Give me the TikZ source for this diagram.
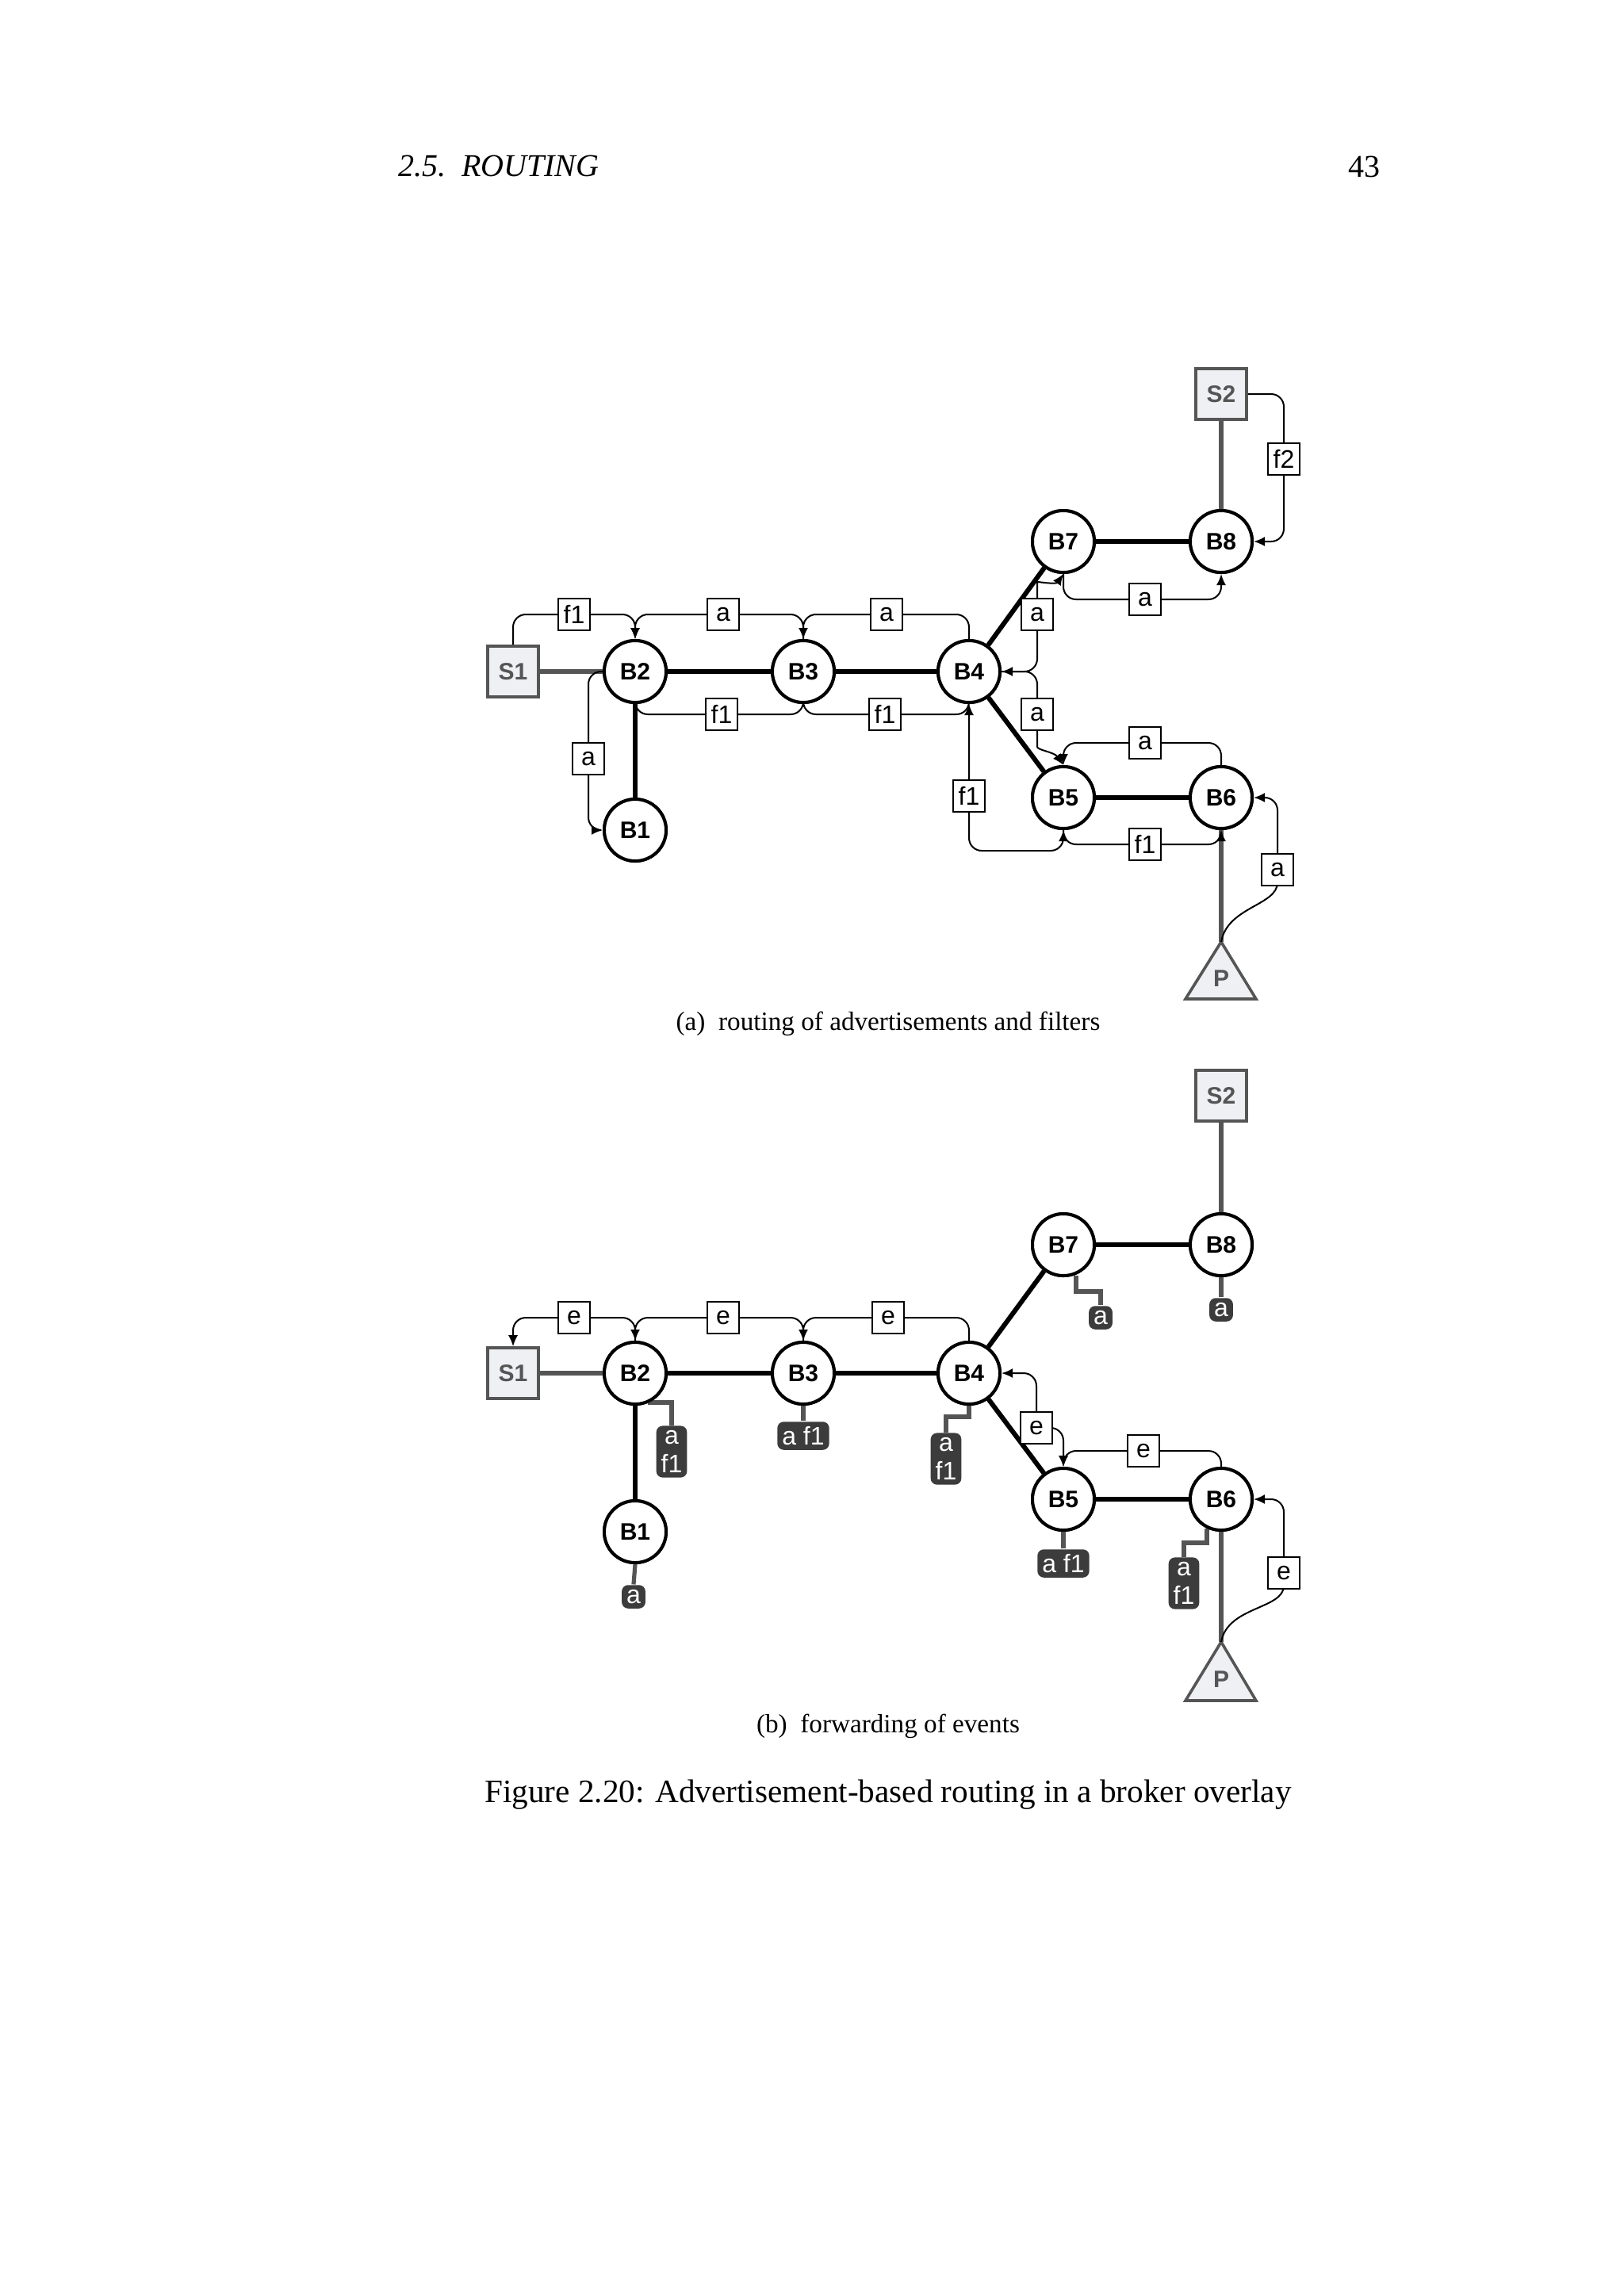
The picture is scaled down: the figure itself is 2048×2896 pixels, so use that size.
\documentclass[tikz,border=0pt]{standalone}
\usepackage{fontspec}
\setmainfont{Liberation Serif}
\setsansfont{Liberation Sans}
\usetikzlibrary{arrows.meta}
\definecolor{cgray}{HTML}{555555}
\definecolor{cfill}{HTML}{EEF0F3}
\definecolor{dbox}{HTML}{3C3C3C}
\begin{document}
\begin{tikzpicture}[x=0.25pt,y=-0.25pt,
  br/.style={circle,draw,line width=1pt,fill=white,minimum size=19.5pt,inner sep=0pt,font=\sffamily\bfseries\fontsize{7.5}{9}\selectfont},
  cl/.style={rectangle,draw=cgray,line width=0.9pt,fill=cfill,minimum size=16pt,inner sep=0pt,text=cgray,font=\sffamily\bfseries\fontsize{7.5}{9}\selectfont},
  lab/.style={rectangle,draw,line width=0.5pt,fill=white,minimum size=10pt,inner sep=0.5pt,font=\sffamily\fontsize{8}{9}\selectfont},
  tbl/.style={rectangle,fill=dbox,rounded corners=2pt,text=white,inner sep=1.5pt,align=center,font=\sffamily\fontsize{8}{9}\selectfont},
  link/.style={line width=1.5pt},
  clink/.style={line width=1.5pt,draw=cgray},
  tlink/.style={line width=1.3pt,draw=cgray},
  fl/.style={line width=0.5pt,rounded corners=4pt,-{Latex[length=3.5pt,width=3pt]}},
  flb/.style={line width=0.5pt,rounded corners=4pt,{Latex[length=3.5pt,width=3pt]}-{Latex[length=3.5pt,width=3pt]}}]
\useasboundingbox[fill=white] (0,0) rectangle (2048,2896);
\node[font=\itshape\fontsize{10}{12}\selectfont,anchor=west] (hd) at (488,210) {2.5.\ \ ROUTING};
\node[font=\fontsize{10}{12}\selectfont,anchor=east] (pg) at (1755,210) {43};

% ================= (a) =================
\node[cl] (S1) at (647,847) {S1};
\node[br] (B2) at (801,847) {B2};
\node[br] (B3) at (1013,847) {B3};
\node[br] (B4) at (1222,847) {B4};
\node[br] (B1) at (801,1047) {B1};
\node[br] (B7) at (1341,683) {B7};
\node[br] (B8) at (1540,683) {B8};
\node[cl] (S2) at (1540,497) {S2};
\node[br] (B5) at (1341,1006) {B5};
\node[br] (B6) at (1540,1006) {B6};
\coordinate (P) at (1540,1188);
\draw[cgray,line width=0.9pt,fill=cfill] (P) -- (1584,1260) -- (1495,1260) -- cycle;
\node[text=cgray,font=\sffamily\bfseries\fontsize{7.5}{9}\selectfont] (Pt) at (1540,1234) {P};

\draw[clink] (S1.east) -- (B2.west);
\draw[clink] (S2.south) -- (B8.north);
\draw[clink] (P) -- (B6.south);
\draw[link] (B2) -- (B3); \draw[link] (B3) -- (B4); \draw[link] (B2) -- (B1);
\draw[link] (B4) -- (B7); \draw[link] (B7) -- (B8);
\draw[link] (B4) -- (B5); \draw[link] (B5) -- (B6);

\node[lab] (f1a) at (724,775) {f1};
\node[lab] (a23) at (912,775) {a};
\node[lab] (a34) at (1118,775) {a};
\node[lab] (f23) at (910,901) {f1};
\node[lab] (f34) at (1116,901) {f1};
\node[lab] (aL) at (742,957) {a};
\node[lab] (a47) at (1308,775) {a};
\node[lab] (a78) at (1444,756) {a};
\node[lab] (a45) at (1308,901) {a};
\node[lab] (a56) at (1444,937) {a};
\node[lab] (f45) at (1222,1004) {f1};
\node[lab] (f56) at (1444,1065) {f1};
\node[lab] (aP) at (1611,1097) {a};
\node[lab] (f2) at (1619,579) {f2};
\coordinate (k1) at (1341,1073);

\begin{scope}[on background layer/.try]
\end{scope}
\draw[fl] (S1.north) |- (f1a.center) -| (B2.north);
\draw[fl] (B3.north) |- (a23.center) -| (B2.north);
\draw[fl] (B4.north) |- (a34.center) -| (B3.north);
\draw[fl] (B2.south) |- (f23.center) -| (B3.south);
\draw[fl] (B3.south) |- (f34.center) -| (B4.south);
\draw[fl] (B2.west) -| (aL.center) |- (B1.west);
\draw[flb] (B4.east) -| (a47.center) -- ++(0,-25) to[out=90,in=235] (B7.south);
\draw[fl] (B4.east) -| (a45.center) -- ++(0,25) to[out=-90,in=125] (B5.north);
\draw[fl] (B7.south) |- (a78.center) -| (B8.south);
\draw[fl] (B6.north) |- (a56.center) -| (B5.north);
\draw[flb] (B4.south) -- (f45.center) |- (k1) -- (B5.south);
\draw[fl] (B5.south) |- (f56.center) -| (B6.south);
\draw[fl] (S2.east) -| (f2.center) |- (B8.east);
\draw[fl] (P) to[out=80,in=-90] (aP.center) |- (B6.east);
\foreach \n in {f1a,a23,a34,f23,f34,aL,a47,a78,a45,a56,f45,f56,aP,f2}
  \node[lab] at (\n) {\phantom{x}};
\node[lab] at (f1a) {f1}; \node[lab] at (a23) {a}; \node[lab] at (a34) {a};
\node[lab] at (f23) {f1}; \node[lab] at (f34) {f1}; \node[lab] at (aL) {a};
\node[lab] at (a47) {a}; \node[lab] at (a78) {a}; \node[lab] at (a45) {a};
\node[lab] at (a56) {a}; \node[lab] at (f45) {f1}; \node[lab] at (f56) {f1};
\node[lab] at (aP) {a}; \node[lab] at (f2) {f2};
\node[br] at (B2) {B2}; \node[br] at (B3) {B3}; \node[br] at (B4) {B4};
\node[br] at (B5) {B5}; \node[br] at (B6) {B6}; \node[br] at (B7) {B7};
\node[br] at (B8) {B8}; \node[br] at (B1) {B1};

\node[font=\fontsize{8.3}{10}\selectfont] (capa) at (1120,1291) {(a)\ \ routing of advertisements and filters};

% ================= (b) =================
\node[cl] (bS1) at (647,1732) {S1};
\node[br] (bB2) at (801,1732) {B2};
\node[br] (bB3) at (1013,1732) {B3};
\node[br] (bB4) at (1222,1732) {B4};
\node[br] (bB1) at (801,1932) {B1};
\node[br] (bB7) at (1341,1570) {B7};
\node[br] (bB8) at (1540,1570) {B8};
\node[cl] (bS2) at (1540,1382) {S2};
\node[br] (bB5) at (1341,1891) {B5};
\node[br] (bB6) at (1540,1891) {B6};
\coordinate (bP) at (1540,2071);
\draw[cgray,line width=0.9pt,fill=cfill] (bP) -- (1584,2145) -- (1495,2145) -- cycle;
\node[text=cgray,font=\sffamily\bfseries\fontsize{7.5}{9}\selectfont] (bPt) at (1540,2118) {P};

\draw[clink] (bS1.east) -- (bB2.west);
\draw[clink] (bS2.south) -- (bB8.north);
\draw[clink] (bP) -- (bB6.south);
\draw[link] (bB2) -- (bB3); \draw[link] (bB3) -- (bB4); \draw[link] (bB2) -- (bB1);
\draw[link] (bB4) -- (bB7); \draw[link] (bB7) -- (bB8);
\draw[link] (bB4) -- (bB5); \draw[link] (bB5) -- (bB6);

\node[tbl] (t2) at (847,1831) {a\\f1};
\node[tbl] (t3) at (1013,1811) {a f1};
\node[tbl] (t4) at (1193,1840) {a\\f1};
\node[tbl] (t7) at (1388,1662) {a};
\node[tbl] (t8) at (1540,1652) {a};
\node[tbl] (t1) at (799,2014) {a};
\node[tbl] (t5) at (1341,1972) {a f1};
\node[tbl] (t6) at (1493,1997) {a\\f1};
\draw[tlink] (bB2.south east) ++(-10,0) coordinate (c2) -- ++(0,8) -| (t2.north);
\draw[tlink] (bB3.south) -- (t3.north);
\draw[tlink] (bB4.south) -- ++(0,14) -| (t4.north);
\draw[tlink] (bB7.south) ++(16,-2) -- ++(0,20) -| (t7.north);
\draw[tlink] (bB8.south) -- (t8.north);
\draw[tlink] (bB1.south) -- (t1.north);
\draw[tlink] (bB5.south) -- (t5.north);
\draw[tlink] (bB6.south) ++(-18,-4) -- ++(0,18) -| (t6.north);

\node[lab] (e1) at (724,1662) {e};
\node[lab] (e23) at (912,1662) {e};
\node[lab] (e34) at (1120,1662) {e};
\node[lab] (e45) at (1307,1801) {e};
\node[lab] (e56) at (1442,1830) {e};
\node[lab] (eP) at (1619,1984) {e};
\draw[fl] (bB2.north) |- (e1.center) -| (bS1.north);
\draw[fl] (bB3.north) |- (e23.center) -| (bB2.north);
\draw[fl] (bB4.north) |- (e34.center) -| (bB3.north);
\draw[flb] (bB4.east) -| (e45.center) -| (bB5.north);
\draw[fl] (bB6.north) |- (e56.center) -| (bB5.north);
\draw[fl] (bP) to[out=80,in=-90] (eP.center) |- (bB6.east);
\node[lab] at (e1) {e}; \node[lab] at (e23) {e}; \node[lab] at (e34) {e};
\node[lab] at (e45) {e}; \node[lab] at (e56) {e}; \node[lab] at (eP) {e};
\node[br] at (bB2) {B2}; \node[br] at (bB3) {B3}; \node[br] at (bB4) {B4};
\node[br] at (bB5) {B5}; \node[br] at (bB6) {B6}; \node[br] at (bB7) {B7};
\node[br] at (bB8) {B8}; \node[br] at (bB1) {B1};

\node[font=\fontsize{8.3}{10}\selectfont] (capb) at (1120,2177) {(b)\ \ forwarding of events};
\node[font=\fontsize{10.3}{12}\selectfont] (capf) at (1120,2264) {Figure 2.20: Advertisement-based routing in a broker overlay};
\end{tikzpicture}
\end{document}
